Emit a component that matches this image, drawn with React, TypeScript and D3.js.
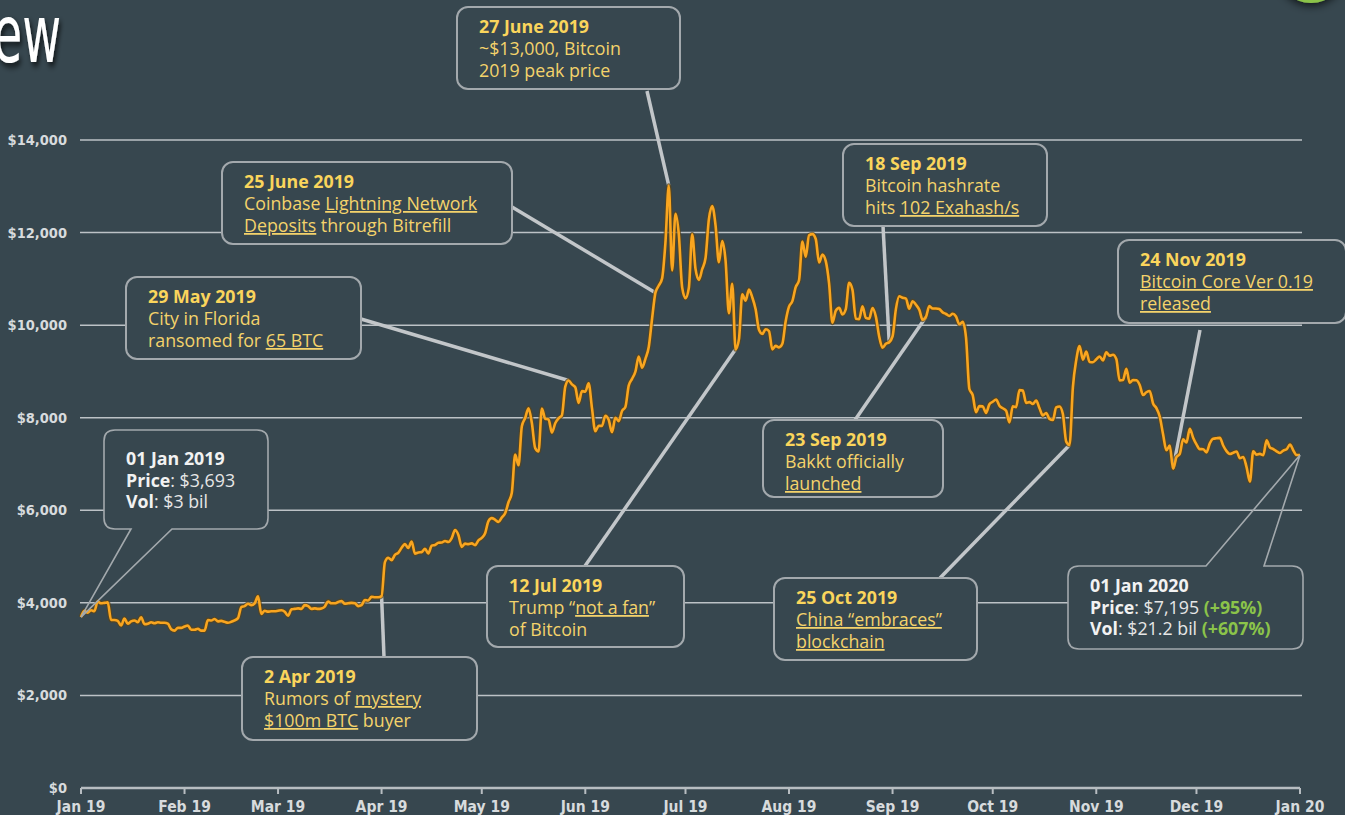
import React from "react";
import * as d3 from "d3";

// ---- Data: daily BTC close price (USD), 2019 ----
const jan = [3693,3830,3790,3840,3820,4030,3990,4000,4010,3630,3630,3610,3510,3660,3550,3600,3620,3580,3690,3540,3550,3580,3560,3580,3570,3570,3550,3430,3400,3460,3460];
const feb = [3490,3510,3420,3420,3440,3400,3400,3630,3620,3650,3600,3610,3590,3570,3590,3620,3670,3910,3930,3980,3950,3990,4140,3760,3830,3810,3820,3820];
const mar = [3830,3840,3810,3720,3860,3870,3880,3870,3950,3930,3870,3880,3870,3880,3920,4030,3990,3990,4020,4040,3980,3990,4000,3990,3930,3950,4060,4050,4130,4120,4120];
const apr = [4146,4880,4974,4922,5036,5082,5189,5268,5185,5325,5064,5089,5096,5167,5068,5236,5251,5298,5303,5337,5314,5399,5573,5465,5210,5279,5268,5285,5247,5350];
const may = [5402,5505,5768,5831,5795,5747,5846,5936,6174,6379,7204,6972,7814,7994,8205,7885,7343,7271,8198,7978,7963,7680,7881,7987,8052,8673,8805,8719,8659,8319,8574];
const jun = [8564,8742,8208,7707,7824,7822,8043,7954,7688,8000,7927,8145,8230,8693,8838,8995,9320,9081,9273,9527,10144,10701,10855,11011,11790,13016,11182,12407,11959,10817];
const jul = [10583,10801,11961,11215,10978,11208,11450,12285,12573,12156,11358,11815,11392,10256,10895,9477,9693,10666,10530,10767,10599,10343,9900,9811,9911,9871,9477,9552,9519,9597,10085];
const aug = [10399,10518,10821,10970,11805,11478,11941,11966,11862,11354,11523,11382,10895,10051,10311,10374,10231,10345,10916,10763,10138,10131,10407,10159,10138,10370,10185,9754,9510,9598,9630];
const sep = [9757,10346,10623,10594,10575,10353,10517,10441,10334,10115,10178,10410,10360,10358,10347,10276,10241,10199,10247,10186,10019,10070,9729,8620,8486,8118,8251,8245,8104,8293];
const oct = [8344,8393,8260,8205,8151,7900,8245,8229,8596,8586,8321,8337,8298,8370,8204,8048,8103,7974,7950,8222,8243,8079,7482,7411,8660,9244,9551,9256,9427,9205,9199];
const nov = [9261,9324,9235,9412,9342,9360,9267,8804,8813,9055,8757,8815,8808,8708,8491,8550,8577,8309,8206,8027,7642,7296,7397,6900,7146,7218,7531,7463,7761,7569];
const dec = [7424,7321,7320,7252,7448,7546,7556,7564,7400,7278,7217,7243,7269,7124,7152,6932,6620,7276,7202,7218,7191,7511,7355,7322,7275,7238,7290,7317,7422,7293,7193];
const jan2020 = [7195];

const yTicks = [0, 2000, 4000, 6000, 8000, 10000, 12000, 14000];

type Seg = string | { t: string; u?: boolean; b?: boolean; g?: boolean };

// annotation texts
const noteTitles = ["27 June 2019", "25 June 2019", "29 May 2019", "2 Apr 2019", "12 Jul 2019", "18 Sep 2019", "23 Sep 2019", "25 Oct 2019", "24 Nov 2019"];
const noteLines: Seg[][][] = [
  [["~$13,000, Bitcoin"], ["2019 peak price"]],
  [["Coinbase ", { t: "Lightning Network", u: true }], [{ t: "Deposits", u: true }, " through Bitrefill"]],
  [["City in Florida"], ["ransomed for ", { t: "65 BTC", u: true }]],
  [["Rumors of ", { t: "mystery", u: true }], [{ t: "$100m BTC", u: true }, " buyer"]],
  [["Trump \u201c", { t: "not a fan", u: true }, "\u201d"], ["of Bitcoin"]],
  [["Bitcoin hashrate"], ["hits ", { t: "102 Exahash/s", u: true }]],
  [["Bakkt officially"], [{ t: "launched", u: true }]],
  [[{ t: "China \u201cembraces\u201d", u: true }], [{ t: "blockchain", u: true }]],
  [[{ t: "Bitcoin Core Ver 0.19", u: true }], [{ t: "released", u: true }]],
];
const noteAnchorDates = ["2019-06-26", "2019-06-22", "2019-05-27", "2019-04-01", "2019-07-16", "2019-08-31", "2019-09-11", "2019-10-24", "2019-11-24"];

const calloutTitles = ["01 Jan 2019", "01 Jan 2020"];
const calloutLines: Seg[][][] = [
  [[{ t: "Price", b: true }, ": $3,693"], [{ t: "Vol", b: true }, ": $3 bil"]],
  [[{ t: "Price", b: true }, ": $7,195 ", { t: "(+95%)", g: true }], [{ t: "Vol", b: true }, ": $21.2 bil ", { t: "(+607%)", g: true }]],
];
const calloutAnchorDates = ["2019-01-01", "2020-01-01"];

// ---- layout (positions, not data) ----
const W = 1345, H = 815;
const M = { left: 81, right: 1300, top: 140, bottom: 788 };
const noteBoxes = [
  { x: 457, y: 7, w: 223, h: 82, ax: 647, ay: 91 },
  { x: 222, y: 162, w: 290, h: 82, ax: 512, ay: 207 },
  { x: 126, y: 277, w: 235, h: 82, ax: 361, ay: 319 },
  { x: 242, y: 657, w: 235, h: 83, ax: 384, ay: 657 },
  { x: 487, y: 566, w: 197, h: 81, ax: 585, ay: 566 },
  { x: 843, y: 144, w: 204, h: 82, ax: 883, ay: 226 },
  { x: 763, y: 420, w: 180, h: 77, ax: 855, ay: 420 },
  { x: 774, y: 578, w: 203, h: 82, ax: 940, ay: 578 },
  { x: 1118, y: 240, w: 228, h: 83, ax: 1200, ay: 330 },
];
const calloutBoxes = [
  { x: 104, y: 430, w: 164, h: 99, side: "bottom", p1: 131, p2: 172, ty: 35 },
  { x: 1068, y: 566, w: 235, h: 83, side: "top", p1: 1206, p2: 1264, ty: 26 },
];

const BG = "#37474f";
const FONT = "'Open Sans', 'Noto Sans', sans-serif";
const FS = 17.8;
const AXFONT = "'Liberation Sans Narrow', 'Arial Narrow', 'DejaVu Sans Condensed', sans-serif";

const parse = d3.timeParse("%Y-%m-%d");

function calloutPath(b: any, tipX: number, tipY: number, r: number) {
  const { x, y, w, h } = b;
  const x2 = x + w, y2 = y + h;
  if (b.side === "bottom") {
    return `M${x + r},${y} H${x2 - r} Q${x2},${y} ${x2},${y + r} V${y2 - r} Q${x2},${y2} ${x2 - r},${y2} H${b.p2} L${tipX},${tipY} L${b.p1},${y2} H${x + r} Q${x},${y2} ${x},${y2 - r} V${y + r} Q${x},${y} ${x + r},${y} Z`;
  }
  return `M${x + r},${y} H${b.p1} L${tipX},${tipY} L${b.p2},${y} H${x2 - r} Q${x2},${y} ${x2},${y + r} V${y2 - r} Q${x2},${y2} ${x2 - r},${y2} H${x + r} Q${x},${y2} ${x},${y2 - r} V${y + r} Q${x},${y} ${x + r},${y} Z`;
}

function renderSegs(segs: Seg[], baseColor: string, baseWeight: number) {
  return segs.map((s, i) => {
    if (typeof s === "string") return <tspan key={i} fill={baseColor} fontWeight={baseWeight}>{s}</tspan>;
    return (
      <tspan
        key={i}
        fill={s.g ? "#8bc34a" : s.b ? "#f2f2f2" : baseColor}
        fontWeight={s.g || s.b ? 700 : baseWeight}
        style={s.u ? { textDecoration: "underline" } : undefined}
      >
        {s.t}
      </tspan>
    );
  });
}

export default function App() {
  const months = [jan, feb, mar, apr, may, jun, jul, aug, sep, oct, nov, dec, jan2020];
  const values = months.flat();
  const start = new Date(2019, 0, 1);
  const data = values.map((v, i) => ({ date: d3.timeDay.offset(start, i), v }));
  const byKey = new Map(data.map((d) => [d3.timeFormat("%Y-%m-%d")(d.date), d.v]));

  const x = d3.scaleTime().domain([start, new Date(2020, 0, 1)]).range([M.left, M.right]);
  const y = d3.scaleLinear().domain([0, 14000]).range([M.bottom, M.top]);
  const line = d3.line<{ date: Date; v: number }>().x((d) => x(d.date)).y((d) => y(d.v)).curve(d3.curveMonotoneX);
  const path = line(data) || "";
  const months2 = d3.timeMonth.range(start, new Date(2020, 0, 2));
  const fmtM = d3.timeFormat("%b %y");
  const fmtY = (v: number) => "$" + d3.format(",")(v);

  const anchor = (k: string) => ({ x: x(parse(k) as Date), y: y(byKey.get(k) as number) });

  return (
    <svg width={W} height={H} style={{ position: "absolute", left: 0, top: 0, display: "block" }}>
      <defs>
        <filter id="tshadow" x="-20%" y="-20%" width="140%" height="140%">
          <feDropShadow dx="3" dy="4" stdDeviation="3" floodColor="#000" floodOpacity="0.7" />
        </filter>
        <filter id="cshadow" x="-50%" y="-50%" width="200%" height="200%">
          <feDropShadow dx="0" dy="2" stdDeviation="5" floodColor="#000" floodOpacity="0.8" />
        </filter>
      </defs>
      <rect x={0} y={0} width={W} height={H} fill={BG} />

      {/* partial page title */}
      <g transform="translate(61,62) scale(0.66,1)" filter="url(#tshadow)">
        <text textAnchor="end" fontFamily={AXFONT} fontSize={80} fill="#ffffff">Overview</text>
      </g>
      <circle cx={1311} cy={-31} r={34} fill="#8bc34a" filter="url(#cshadow)" />

      {/* gridlines */}
      {yTicks.filter((t) => t > 0).map((t) => (
        <line key={t} x1={M.left - 1} x2={M.right + 2} y1={y(t)} y2={y(t)} stroke="#bcc2c6" strokeWidth={1.5} />
      ))}
      {/* y labels */}
      {yTicks.map((t) => (
        <text key={t} x={67} y={y(t) + 5} textAnchor="end" fontFamily={AXFONT} fontWeight={700} fontSize={14.5} fill="#d7dbdd">
          {fmtY(t)}
        </text>
      ))}
      {/* x axis */}
      <line x1={M.left} x2={M.right} y1={M.bottom} y2={M.bottom} stroke="#b7bdc1" strokeWidth={2.5} />
      {months2.map((m, i) => (
        <g key={i} transform={`translate(${x(m)},0)`}>
          <line y1={M.bottom} y2={M.bottom + 6} stroke="#b7bdc1" strokeWidth={2} />
          <text y={812} textAnchor="middle" fontFamily={AXFONT} fontWeight={700} fontSize={15.5} fill="#d7dbdd">
            {fmtM(m)}
          </text>
        </g>
      ))}

      {/* connectors */}
      {noteBoxes.map((b, i) => {
        const a = anchor(noteAnchorDates[i]);
        return <line key={i} x1={b.ax} y1={b.ay} x2={a.x} y2={a.y} stroke="#c2c6c9" strokeWidth={3.5} />;
      })}

      {/* price line */}
      <path d={path} fill="none" stroke="#5c4416" strokeOpacity={0.7} strokeWidth={4.8} strokeLinejoin="round" />
      <path d={path} fill="none" stroke="#f9a51f" strokeWidth={2.6} strokeLinejoin="round" />

      {/* annotation boxes */}
      {noteBoxes.map((b, i) => (
        <g key={i}>
          <rect x={b.x} y={b.y} width={b.w} height={b.h} rx={11} fill={BG} stroke="#a3a9ad" strokeWidth={2} />
          <text x={b.x + 22} y={b.y + 26} fontFamily={FONT} fontSize={FS} fontWeight={700} fill="#fad55c">
            {noteTitles[i]}
          </text>
          {noteLines[i].map((ln, j) => (
            <text key={j} x={b.x + 22} y={b.y + 26 + 22 * (j + 1)} fontFamily={FONT} fontSize={FS} fill="#f4d36b">
              {renderSegs(ln, "#f4d36b", 400)}
            </text>
          ))}
        </g>
      ))}

      {/* callouts */}
      {calloutBoxes.map((b, i) => {
        const a = anchor(calloutAnchorDates[i]);
        return (
          <g key={i}>
            <rect x={b.x} y={b.y} width={b.w} height={b.h} rx={11} fill={BG} />
            <path d={calloutPath(b, a.x, a.y, 11)} fill="none" stroke="#a3a9ad" strokeWidth={1.6} />
            <text x={b.x + 22} y={b.y + b.ty} fontFamily={FONT} fontSize={FS} fontWeight={700} fill="#f2f2f2">
              {calloutTitles[i]}
            </text>
            {calloutLines[i].map((ln, j) => (
              <text key={j} x={b.x + 22} y={b.y + b.ty + 21.5 * (j + 1)} fontFamily={FONT} fontSize={FS} fill="#e6e6e6">
                {renderSegs(ln, "#e6e6e6", 400)}
              </text>
            ))}
          </g>
        );
      })}
    </svg>
  );
}
